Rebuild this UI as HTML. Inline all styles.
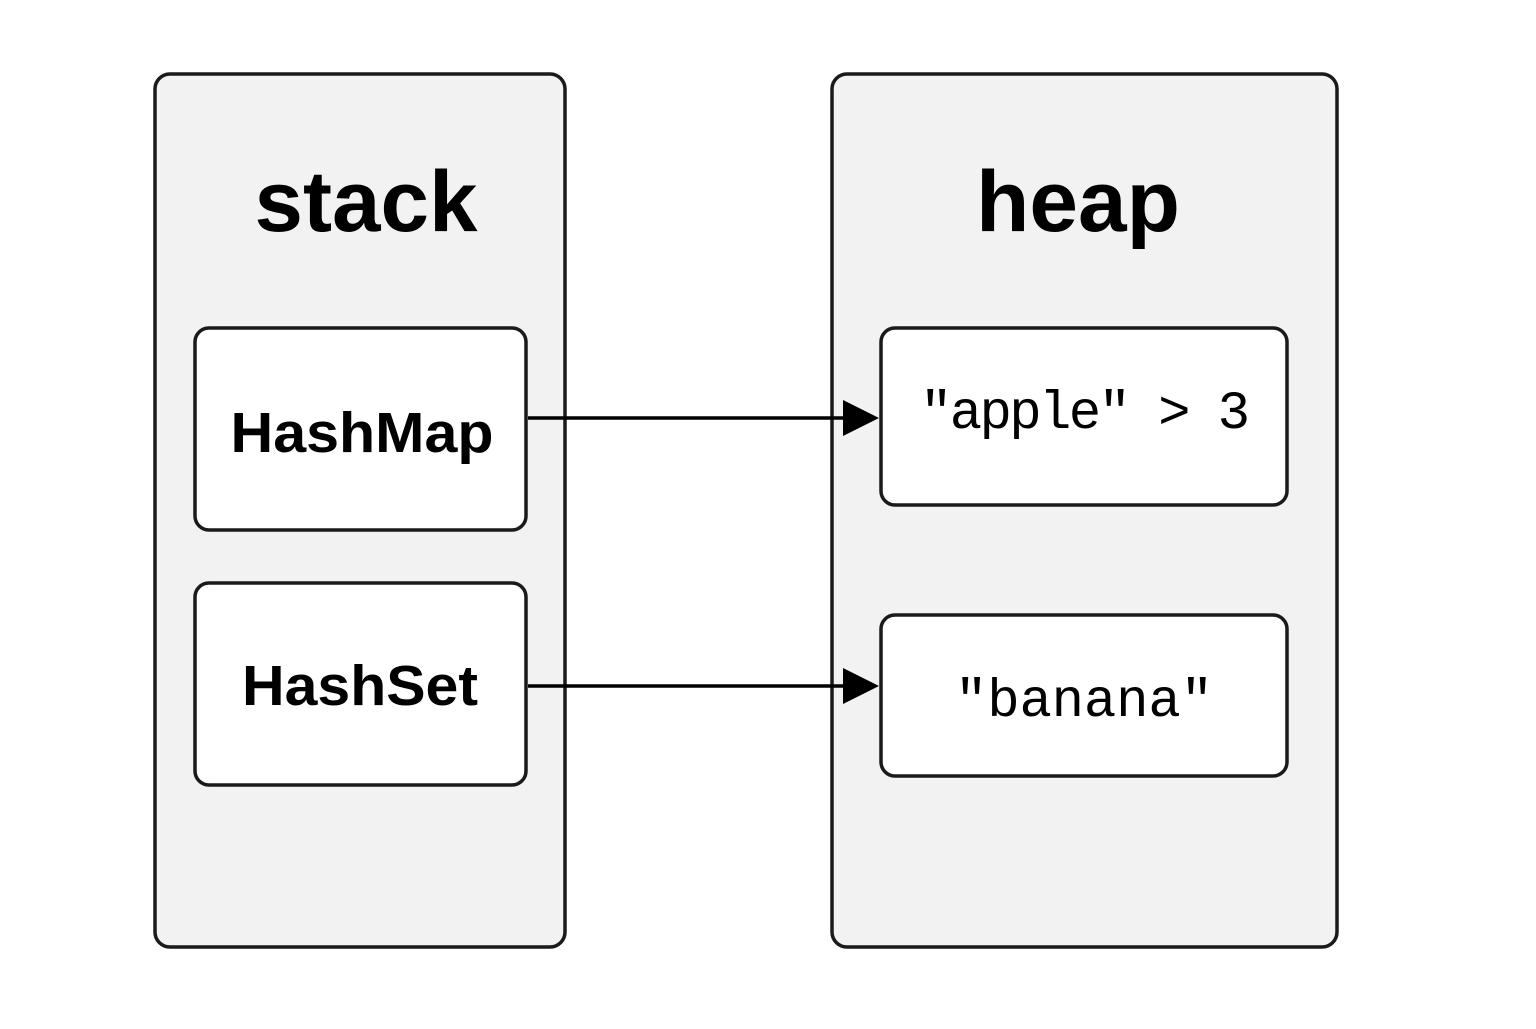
<!DOCTYPE html>
<html><head><style>html,body{margin:0;padding:0;background:#fff;}</style></head>
<body>
<svg width="1536" height="1024" viewBox="0 0 1536 1024" xmlns="http://www.w3.org/2000/svg">
<rect x="0" y="0" width="1536" height="1024" fill="#fff"/>
<rect x="155" y="74" width="410" height="873" rx="15" fill="#f2f2f2" stroke="#1a1a1a" stroke-width="3.5"/>
<rect x="832" y="74" width="505" height="873" rx="15" fill="#f2f2f2" stroke="#1a1a1a" stroke-width="3.5"/>
<text x="366" y="231" text-anchor="middle" font-family="Liberation Sans, sans-serif" font-weight="bold" font-size="86" textLength="223" lengthAdjust="spacingAndGlyphs">stack</text>
<text x="1078" y="231" text-anchor="middle" font-family="Liberation Sans, sans-serif" font-weight="bold" font-size="86" textLength="204" lengthAdjust="spacingAndGlyphs">heap</text>
<rect x="195" y="328" width="331" height="202" rx="14" fill="#fff" stroke="#1a1a1a" stroke-width="3.5"/>
<rect x="195" y="583" width="331" height="202" rx="14" fill="#fff" stroke="#1a1a1a" stroke-width="3.5"/>
<rect x="881" y="328" width="406" height="177" rx="14" fill="#fff" stroke="#1a1a1a" stroke-width="3.5"/>
<rect x="881" y="615" width="406" height="161" rx="14" fill="#fff" stroke="#1a1a1a" stroke-width="3.5"/>
<text x="362" y="452" text-anchor="middle" font-family="Liberation Sans, sans-serif" font-weight="bold" font-size="57" textLength="263" lengthAdjust="spacingAndGlyphs">HashMap</text>
<text x="360" y="705" text-anchor="middle" font-family="Liberation Sans, sans-serif" font-weight="bold" font-size="57" textLength="236" lengthAdjust="spacingAndGlyphs">HashSet</text>
<text x="1085" y="428" text-anchor="middle" font-family="Liberation Mono, DejaVu Sans Mono, monospace" font-size="54" textLength="330">"apple" &gt; 3</text>
<text x="1084" y="716" text-anchor="middle" font-family="Liberation Mono, DejaVu Sans Mono, monospace" font-size="54" textLength="258">"banana"</text>
<line x1="528" y1="418" x2="846" y2="418" stroke="#000" stroke-width="3.5"/>
<polygon points="843,400 879,418 843,436" fill="#000"/>
<line x1="528" y1="686" x2="846" y2="686" stroke="#000" stroke-width="3.5"/>
<polygon points="843,668 879,686 843,704" fill="#000"/>
</svg>
</body></html>
